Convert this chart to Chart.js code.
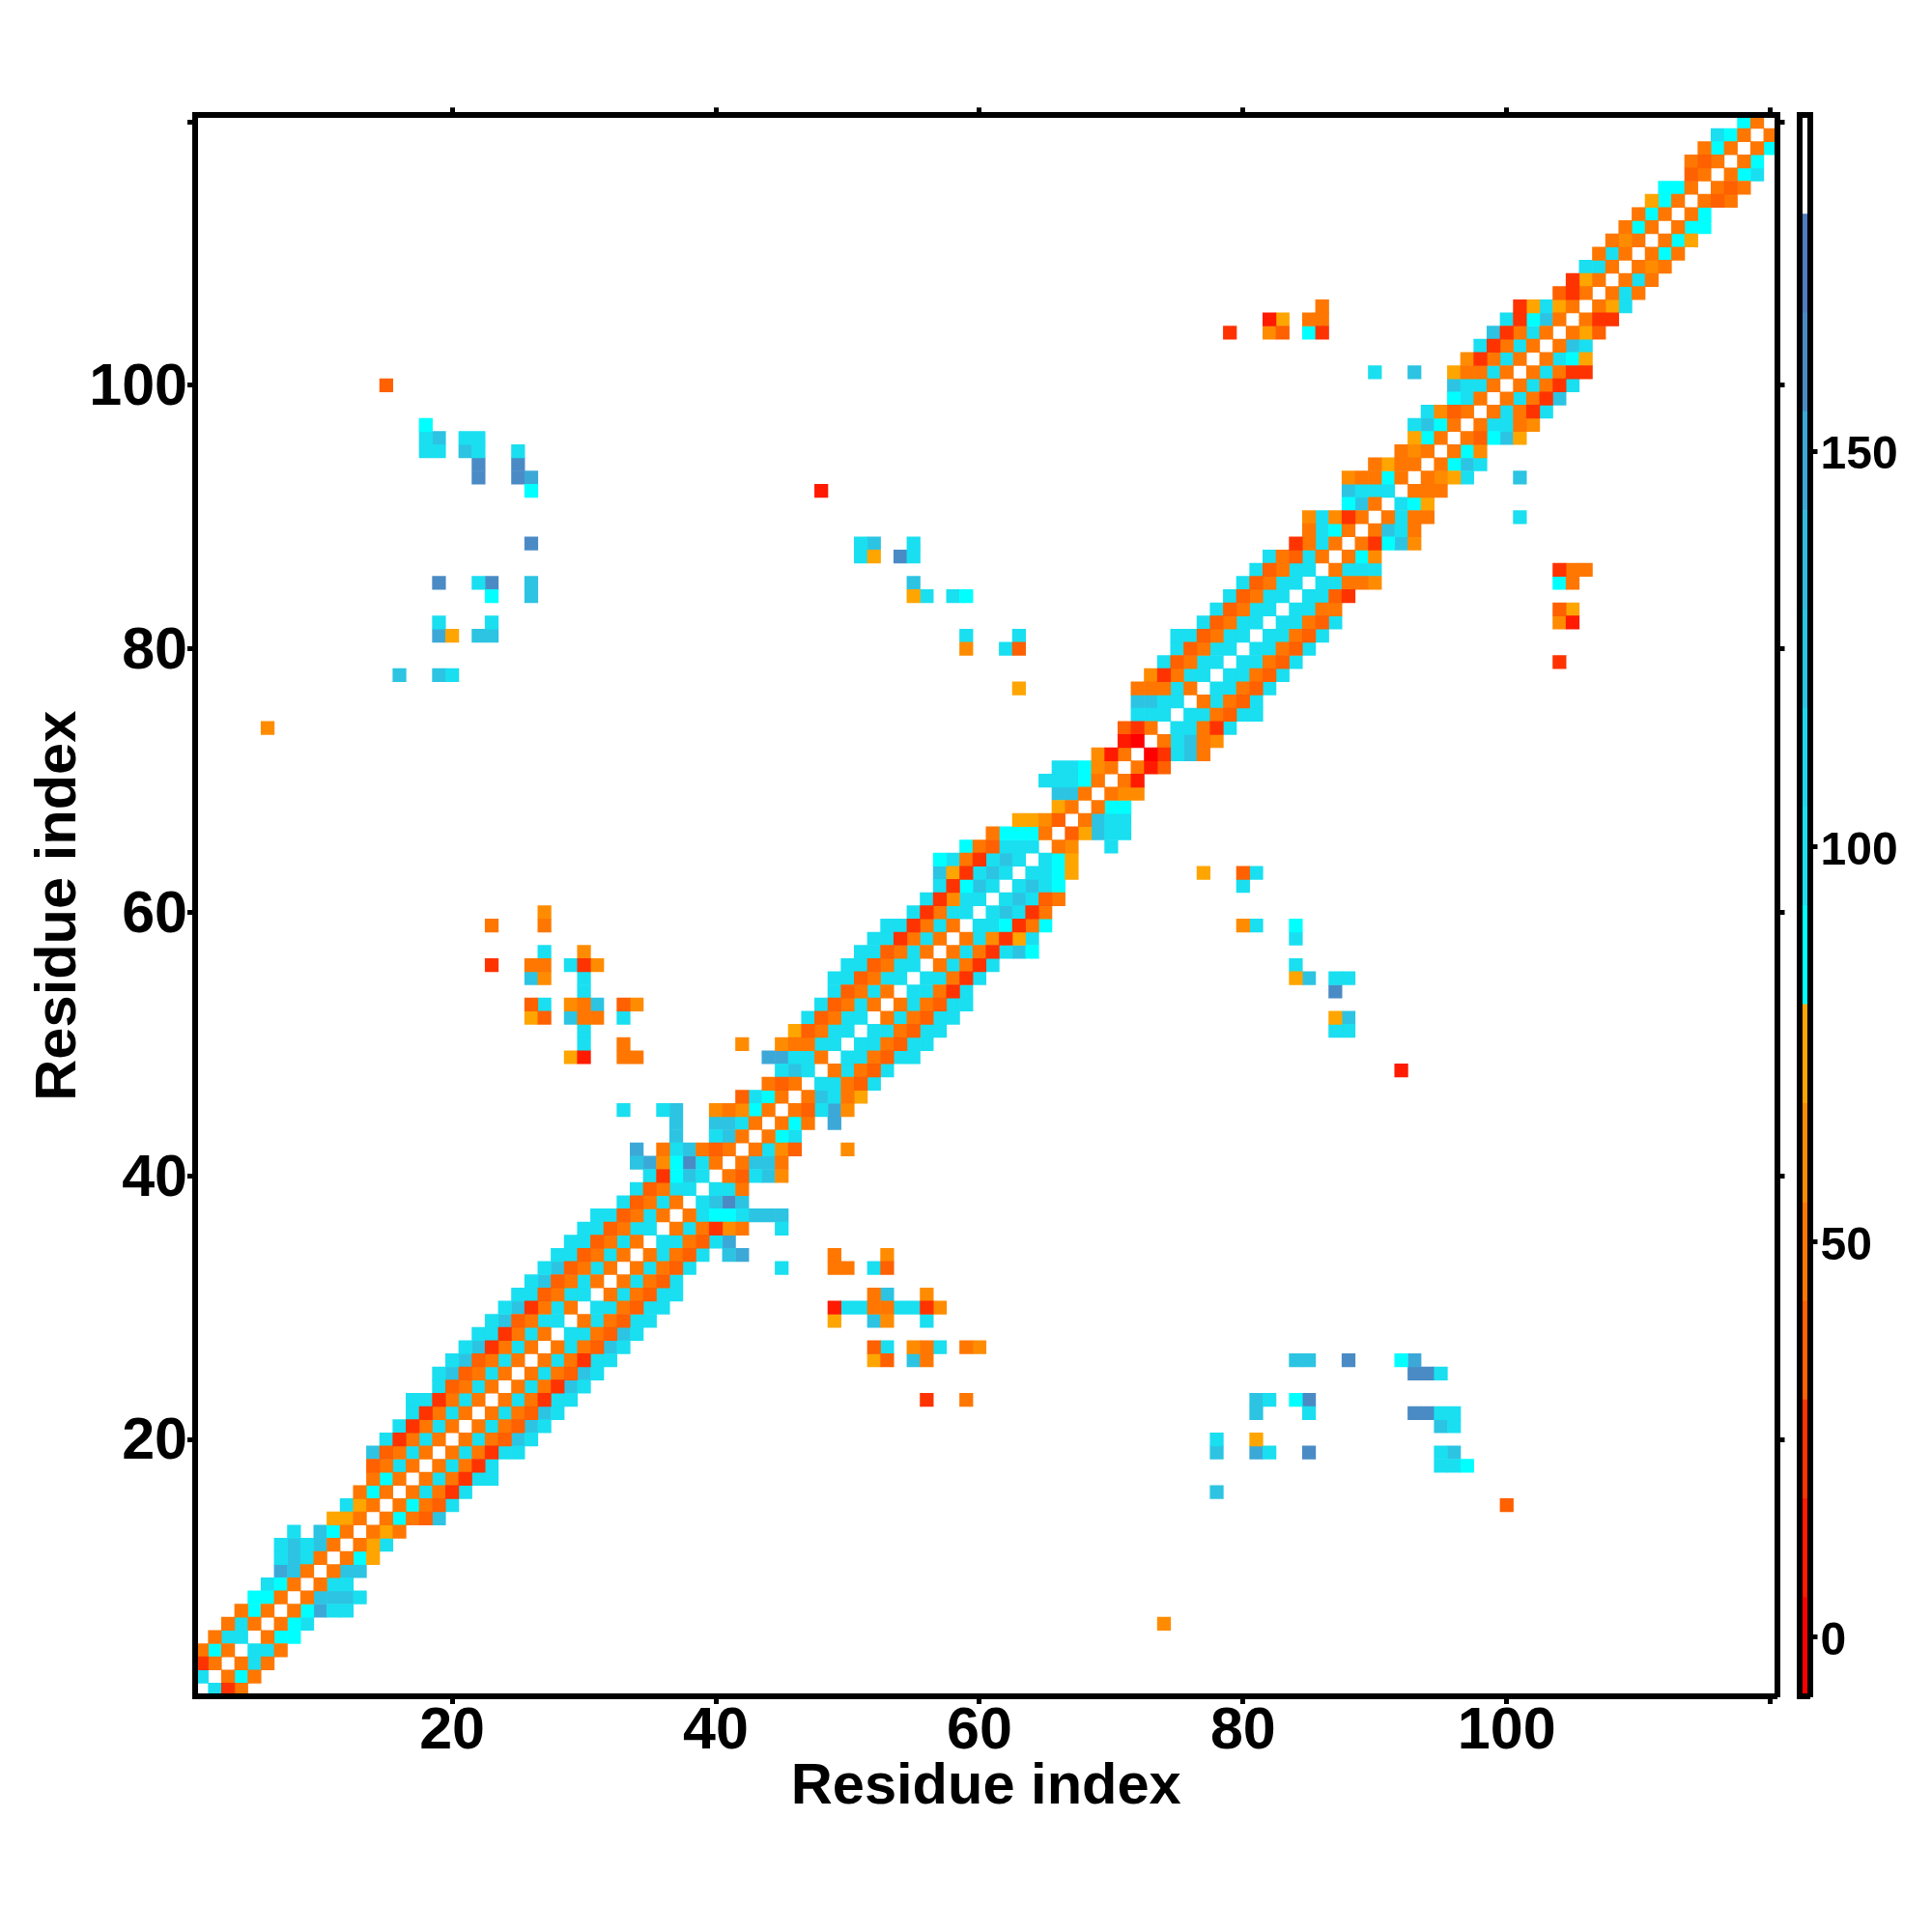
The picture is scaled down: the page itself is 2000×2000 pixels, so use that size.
<!DOCTYPE html>
<html>
<head>
<meta charset="utf-8">
<title>Residue contact map</title>
<script src="https://cdn.jsdelivr.net/npm/chart.js@4"></script>
<style>
    html, body { margin: 0; padding: 0; background: #fff; }
    #map { position: absolute; left: 0; top: 0; }
    #bar { position: absolute; left: 1840px; top: 0; }
</style>
</head>
<body>
<canvas id="map" width="2000" height="2000"></canvas>
<canvas id="bar" width="160" height="2000"></canvas>
<script>
const residueCount = 120;
const residueTicks = [20, 40, 60, 80, 100, 120];
const colorbarTicks = [0, 50, 100, 150];
const axisTitle = 'Residue index';

// colour key: edges of each band and its colour
const bandEdges = [-7.5, 5, 17.5, 30, 42.5, 55, 67.5, 80, 92.5, 105, 117.5, 130, 142.5, 155, 167.5, 180, 192.5];
const bandColors = ['#ff0000', '#ff1a00', '#ff3300', '#ff6000', '#ff7700', '#ff8c00', '#ffa500', '#00ffff',
    '#19dff0', '#1cd6ec', '#2cc4e2', '#30bbdf', '#3ca8d8', '#4a8bc5', '#4f7dbf', '#ffffff'];

// near-diagonal cells, one list per residue 2..120, starting at the column in bandFirstColumn
const bandFirstColumn = [1, 1, 1, 2, 3, 4, 5, 6, 7, 7, 7, 8, 11, 12, 13, 14, 14, 14, 15, 16, 17, 17, 19, 19, 20, 21, 22, 23, 24, 25,
    26, 27, 28, 29, 30, 31, 33, 34, 35, 34, 34, 37, 37, 33, 42, 44, 45, 44, 42, 46, 47, 48, 49, 49, 50, 51, 52, 53, 55, 56,
    57, 57, 57, 59, 61, 63, 66, 66, 65, 66, 69, 71, 71, 72, 72, 72, 73, 74, 75, 75, 77, 78, 79, 80, 81, 82, 84, 85, 85, 88,
    88, 88, 90, 92, 93, 93, 94, 96, 96, 96, 97, 98, 99, 100, 101, 104, 105, 106, 107, 108, 109, 110, 111, 112, 114, 114, 115, 116, 118];
const bandAngles = [
    [99], [24, 49], [49, 86, 49], [49, 99, 99], [49, 99, 49], [49, 86, 49], [86, 86, 49], [99, 86, 49],
    [149, 124, 49], [99, 124, 99, 49], [99, 124, 99, 124, 49], [99, null, 124, 86, 49], [74, 74, 49], [99, 74, 49],
    [49, 86, 49], [49, 86, 49], [36, 49, 99, 49], [124, 36, 49, 99, 49], [99, 24, 49, 99, 49], [99, 24, 49, 99, 49],
    [99, 24, 49, 99, 49], [99, 99, 24, 49, 99, 49], [99, 36, 49, 99, 49], [99, 124, 36, 49, 99, 49], [99, 124, 36, 49, 99, 49],
    [99, 124, 24, 49, 99, 49], [99, 99, 24, 49, 99, 49], [99, 124, 36, 49, 99, 99], [99, 124, 24, 49, 99, 49], [99, 99, 36, 49, 99, 99],
    [99, 124, 36, 49, 99, 49], [99, 124, 36, 49, 99, 49], [99, 99, 36, 49, 99, 49], [99, 99, 36, 49, 99, 49], [99, 99, 36, 49, 99, 99],
    [99, 99, 36, 49, 99, 49], [99, 36, 49, 99, 49], [99, 36, 49, 99, 99], [99, 24, 86, 124, 99], [124, 149, 61, 86, 161, 99, 49],
    [149, null, 49, 99, 124, 49, 36, 49], [124, null, null, 99, 124, 49], [124, null, null, 124, 124, 99, 49],
    [99, null, null, 99, 124, null, null, 61, 49, 61, 86, 49], [36, 99, 86, 49], [49, 36, 49], [99, 124, 99],
    [149, 149, 99, 99, 49], [61, null, null, 61, 49, 49, 99, 99], [74, 36, 49, 99, 99], [99, 36, 49, 99, 99], [99, 36, 49, 99, 49],
    [99, 36, 49, 99, 49], [99, 99, 36, 49, 99, 99], [99, 99, 36, 49, 99, 99], [99, 99, 36, 49, 99, 49], [99, 99, 24, 49, 99, 49],
    [99, 99, 24, 49, 99, 49], [99, 24, 49, 99, 99], [99, 24, 61, 99, 99], [99, 24, 86, 124, 99], [124, 74, 24, 99, 124, 99],
    [86, 99, 49, 24, 99, 124, 99], [86, 49, 36, 99, 99, 99], [49, 86, 86, 86, 49], [74, 74, 61, 36], [74, 49], [124, 124, 49],
    [99, 99, 99, 86, 49], [99, 99, 86, 61, 49], [61, 11, 49], [11, 0], [36, 24, 49], [99, 99, 99], [124, 124, 99, 99],
    [49, 49, 49, 99, 49], [61, 24, 49, 99, 99], [99, 36, 49, 99, 99], [99, 36, 49, 99, 99], [99, 99, 36, 49, 99, 99],
    [99, 36, 49, 99, 99], [99, 36, 49, 99, 99], [99, 36, 49, 99, 99], [99, 36, 49, 99, 99], [99, 36, 49, 99, 99],
    [99, 49, 36, 99, 49], [24, 49, 99, 49], [49, 99, 86, 49], [61, 99, 61, 24, 49], [86, 124, 49], [124, 99, 99, 99],
    [61, 49, 49, 86, 49], [49, 74, 49, 49], [49, 61, 49], [74, 86, 49], [99, 124, 86, 49], [99, 61, 36, 49], [86, 99, 49],
    [124, 99, 99, 49], [74, 49, 49, 99, 49], [61, 24, 49, 99, 49], [99, 24, 49, 99, 49], [124, 24, 49, 99, 49],
    [99, 24, 86, 124, 49], [24, 74, 99, 74, 49], [36, 24, 49], [24, 74, 49], [99, 99, 49], [49, 99, 49], [49, 61, 49],
    [49, 86, 49], [49, 86, 49], [74, 86, 49], [86, 86, 49], [36, 49], [49, 36, 49], [49, 86, 49], [99, 86, 49], [86, 49]
];

// isolated contacts away from the diagonal
const contactRow = [100, 97, 96, 96, 96, 96, 95, 95, 95, 95, 95, 94, 94, 93, 93, 93, 92, 88, 85, 85, 85, 85, 84, 84, 82, 82, 81, 81, 81, 81, 78, 78, 78, 74,
    60, 59, 59, 57, 57, 56, 56, 56, 56, 56, 56, 55, 55, 55, 54, 53, 53, 53, 53, 53, 53, 53, 52, 52, 52, 52, 52, 52, 51, 50, 50, 49, 49, 49, 49,
    92, 88, 88, 88, 87, 87, 87, 87, 85, 84, 84, 84, 84, 81, 81, 80, 80, 80, 77,
    106, 105, 105, 105, 105, 104, 104, 104, 104, 104, 101, 101];
const contactColumn = [15, 18, 18, 19, 21, 22, 18, 19, 21, 22, 25, 22, 25, 22, 25, 26, 26, 26, 19, 22, 23, 26, 23, 26, 19, 23, 19, 20, 22, 23, 16, 19, 20, 6,
    27, 23, 27, 27, 30, 23, 26, 27, 29, 30, 31, 26, 27, 30, 30, 26, 27, 29, 30, 31, 33, 34, 26, 27, 29, 30, 31, 33, 30, 30, 33, 29, 30, 33, 34,
    48, 51, 52, 55, 51, 52, 54, 55, 55, 55, 56, 58, 59, 59, 63, 59, 62, 63, 63,
    86, 82, 83, 85, 86, 79, 82, 83, 85, 86, 90, 93];
const contactAngle = [36, 86, 99, 124, 99, 99, 99, 99, 124, 99, 99, 161, 161, 161, 161, 149, 86, 161, 161, 99, 161, 124, 86, 124, 99, 99, 149, 74, 124, 124, 124, 124, 99, 61,
    61, 49, 49, 99, 61, 24, 49, 49, 99, 24, 61, 124, 61, 99, 99, 36, 99, 61, 49, 124, 36, 61, 74, 36, 124, 49, 49, 99, 99, 99, 49, 74, 11, 49, 49,
    11, 99, 124, 99, 99, 74, 161, 99, 124, 74, 99, 99, 86, 99, 99, 61, 99, 36, 74,
    49, 11, 74, 49, 49, 24, 61, 36, 86, 24, 99, 124];

function bandIndex(angle) {
    for (let i = 0; i < bandColors.length; i++) {
        if (angle < bandEdges[i + 1]) return i;
    }
    return bandColors.length - 1;
}

// one scatter dataset per colour band, each cell mirrored across the diagonal
const cellsByBand = bandColors.map(() => []);

function addCell(row, column, angle) {
    const cells = cellsByBand[bandIndex(angle)];
    cells.push({ x: column, y: row });
    cells.push({ x: row, y: column });
}

bandAngles.forEach((angles, i) => {
    angles.forEach((angle, k) => {
        if (angle !== null) addCell(i + 2, bandFirstColumn[i] + k, angle);
    });
});
contactRow.forEach((row, i) => addCell(row, contactColumn[i], contactAngle[i]));

const tickFont = { family: 'Liberation Sans', size: 61, weight: 'bold' };
const titleFont = { family: 'Liberation Sans', size: 59.6, weight: 'bold' };

function fixedSize(size) {
    return function(scale) {
        if (scale.isHorizontal()) scale.height = size;
        else scale.width = size;
    };
}

function residueAxis(position, size, showLabels, title) {
    const horizontal = position === 'top' || position === 'bottom';
    return {
        type: 'linear',
        axis: horizontal ? 'x' : 'y',
        position: position,
        min: 0.5,
        max: residueCount + 0.5,
        afterBuildTicks: scale => { scale.ticks = residueTicks.map(value => ({ value })); },
        afterFit: fixedSize(size),
        border: { display: true, color: '#000', width: 6, z: 1 },
        grid: { drawOnChartArea: false, drawTicks: true, tickLength: 8, tickWidth: 5, tickColor: '#000', z: 1 },
        ticks: {
            display: showLabels,
            autoSkip: false,
            maxRotation: 0,
            padding: horizontal ? -7 : 0,
            labelOffset: horizontal ? 0 : 3.5,
            color: '#000',
            font: tickFont,
            callback: value => (value === 120 ? '' : value)
        },
        title: title
    };
}

new Chart(document.getElementById('map').getContext('2d'), {
    type: 'scatter',
    data: {
        datasets: cellsByBand.map((cells, i) => ({
            data: cells,
            clip: 0,
            pointStyle: 'rect',
            pointBackgroundColor: bandColors[i],
            pointBorderWidth: 0,
            // a little over one cell wide so neighbours close up without seams
            pointRadius: ctx => (ctx.chart.scales.x.width / residueCount + 0.6) * Math.SQRT1_2
        }))
    },
    options: {
        responsive: false,
        animation: false,
        layout: { padding: 0 },
        plugins: { legend: { display: false }, tooltip: { enabled: false } },
        scales: {
            x: residueAxis('bottom', 244, true, {
                display: true, text: axisTitle, color: '#000', font: titleFont, padding: { top: 0, bottom: 114 }
            }),
            xTop: residueAxis('top', 119.3, false, { display: false }),
            y: residueAxis('left', 202, true, {
                display: true, text: axisTitle, color: '#000', font: titleFont, padding: { top: 26, bottom: 0 }
            }),
            yRight: residueAxis('right', 160.5, false, { display: false })
        }
    }
});

// colour key, one floating bar per band
function barEdge(position, size) {
    return {
        type: 'category',
        position: position,
        stacked: true,
        afterFit: fixedSize(size),
        border: { display: true, color: '#000', width: 6, z: 1 },
        grid: { display: false },
        ticks: { display: false }
    };
}

new Chart(document.getElementById('bar').getContext('2d'), {
    type: 'bar',
    data: {
        labels: [''],
        datasets: bandColors.map((color, i) => ({
            data: [[bandEdges[i], bandEdges[i + 1]]],
            backgroundColor: color,
            borderWidth: 0,
            barPercentage: 1,
            categoryPercentage: 1
        }))
    },
    options: {
        responsive: false,
        animation: false,
        layout: { padding: 0 },
        plugins: { legend: { display: false }, tooltip: { enabled: false } },
        scales: {
            x: barEdge('bottom', 244),
            xTop: Object.assign(barEdge('top', 119.3), { axis: 'x' }),
            y: {
                position: 'right',
                min: bandEdges[0],
                max: bandEdges[bandEdges.length - 1],
                afterBuildTicks: scale => { scale.ticks = colorbarTicks.map(value => ({ value })); },
                afterFit: fixedSize(126.5),
                border: { display: true, color: '#000', width: 6, z: 1 },
                grid: { drawOnChartArea: false, drawTicks: true, tickLength: 8, tickWidth: 5, tickColor: '#000', z: 1 },
                ticks: {
                    autoSkip: false,
                    maxRotation: 0,
                    padding: 3,
                    labelOffset: 5,
                    color: '#000',
                    font: { family: 'Liberation Sans', size: 48, weight: 'bold' }
                }
            },
            yLeft: {
                type: 'linear',
                axis: 'y',
                position: 'left',
                min: bandEdges[0],
                max: bandEdges[bandEdges.length - 1],
                afterFit: fixedSize(22.5),
                border: { display: true, color: '#000', width: 6, z: 1 },
                grid: { display: false },
                ticks: { display: false }
            }
        }
    }
});
</script>
</body>
</html>
